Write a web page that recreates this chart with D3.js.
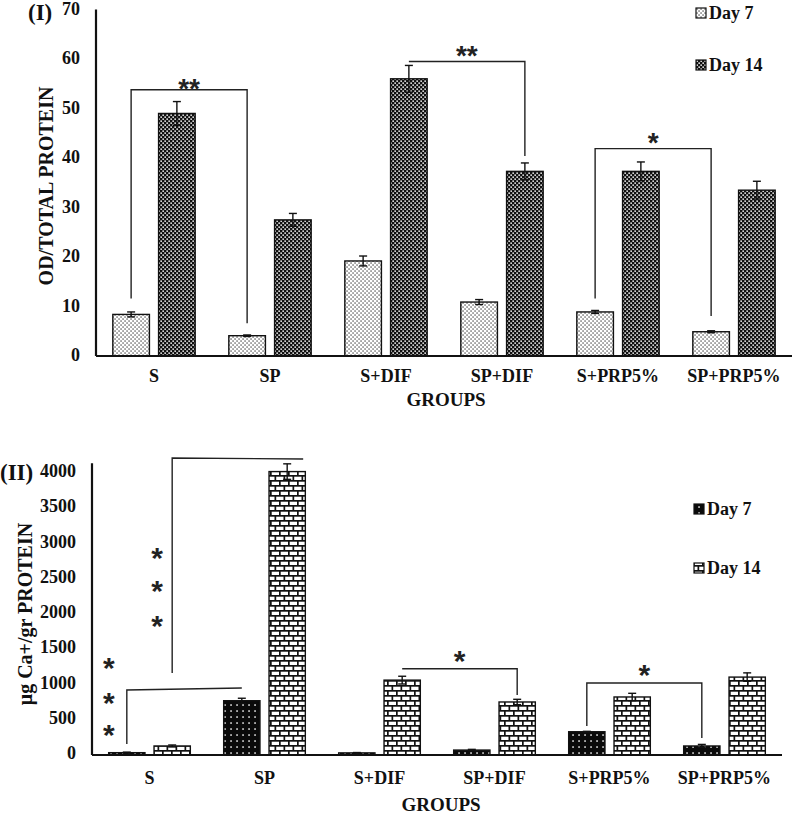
<!DOCTYPE html>
<html><head><meta charset="utf-8">
<script src="https://cdn.jsdelivr.net/npm/d3@7"></script>
<style>html,body{margin:0;padding:0;background:#fff}svg{display:block}</style>
</head><body>
<script>
// ---------- data ----------
const categories = ["S","SP","S+DIF","SP+DIF","S+PRP5%","SP+PRP5%"];
const seriesNames = ["Day 7","Day 14"];

// Panel I: OD/TOTAL PROTEIN
const odDay7   = [8.4, 4.1, 19.2, 10.9, 8.9, 4.9];
const odDay14  = [49.0, 27.5, 56.0, 37.3, 37.3, 33.5];
const odErr7   = [0.5, 0.15, 1.0, 0.5, 0.3, 0.2];
const odErr14  = [2.4, 1.3, 2.7, 1.7, 1.9, 1.8];
const odTicks  = [0,10,20,30,40,50,60,70];

// Panel II: µg Ca+/gr PROTEIN
const caDay7   = [33, 770, 30, 70, 330, 128];
const caDay14  = [128, 4020, 1062, 752, 823, 1105];
const caErr7   = [8, 35, 5, 10, 6, 22];
const caErr14  = [14, 110, 55, 38, 52, 60];
const caTicks  = [0,500,1000,1500,2000,2500,3000,3500,4000];

// significance brackets: from [category, series] to [category, series], top value, leg ends (null = no leg)
const odBrackets = [
  {from:[0,0], to:[1,0], top:[53.8,53.8], legL:11.6, legR:6.6, label:"**", labelVal:55.6},
  {from:[2,1], to:[3,1], top:[59.5,59.5], legL:null, legR:40.4, label:"**", labelVal:62.2},
  {from:[4,0], to:[5,0], top:[41.9,41.9], legL:11.6, legR:8.1, label:"*", labelVal:44.6}
];
const caBrackets = [
  {from:[0,0], to:[1,0], top:[922,950], legL:156, legR:null, label:null},
  {from:[0,1], to:[1,1], top:[4213,4199], legL:1163, legR:null, label:null, extendR:16},
  {from:[2,1], to:[3,1], top:[1224,1224], legL:null, legR:851, label:"*", labelVal:1440},
  {from:[4,0], to:[5,0], top:[1021,1021], legL:411, legR:241, label:"*", labelVal:1250}
];
// vertical star columns (panel II)
const caStarColumns = [
  {cat:0, series:0, dx:-18, vals:[1348, 851, 397]},
  {cat:0, series:1, dx:-15, vals:[2908, 2440, 1943]}
];

// ---------- drawing ----------
const W = 796, H = 814;
const svg = d3.select("body").append("svg").attr("width", W).attr("height", H);
const defs = svg.append("defs");
const serif = "'Liberation Serif','Times New Roman',serif";
const ink = "#111";

function pattern(id, w, h, build){
  const p = defs.append("pattern").attr("id", id).attr("patternUnits","userSpaceOnUse")
    .attr("width", w).attr("height", h);
  build(p);
}
pattern("odD7", 4, 4, p => {
  p.append("rect").attr("width",4).attr("height",4).attr("fill","#fff");
  p.append("rect").attr("x",0.4).attr("y",0.4).attr("width",1.3).attr("height",1.3).attr("fill","#444");
  p.append("rect").attr("x",2.4).attr("y",2.4).attr("width",1.3).attr("height",1.3).attr("fill","#444");
});
pattern("odD14", 4, 4, p => {
  p.append("rect").attr("width",4).attr("height",4).attr("fill","#111");
  p.append("rect").attr("x",0.4).attr("y",0.4).attr("width",1.5).attr("height",1.5).attr("fill","#fff");
  p.append("rect").attr("x",2.4).attr("y",2.4).attr("width",1.5).attr("height",1.5).attr("fill","#fff");
});
pattern("caD7", 6, 6, p => {
  p.append("rect").attr("width",6).attr("height",6).attr("fill","#0a0a0a");
  p.append("rect").attr("x",2.3).attr("y",2.3).attr("width",1.5).attr("height",1.5).attr("fill","#fff");
});
pattern("caD14", 18, 10, p => {
  p.append("rect").attr("width",18).attr("height",10).attr("fill","#fff");
  p.append("rect").attr("x",0).attr("y",0).attr("width",18).attr("height",1.7).attr("fill","#111");
  p.append("rect").attr("x",0).attr("y",5).attr("width",18).attr("height",1.7).attr("fill","#111");
  p.append("rect").attr("x",0).attr("y",0).attr("width",1.7).attr("height",5).attr("fill","#111");
  p.append("rect").attr("x",9).attr("y",0).attr("width",1.7).attr("height",5).attr("fill","#111");
  p.append("rect").attr("x",4.5).attr("y",5).attr("width",1.7).attr("height",5).attr("fill","#111");
  p.append("rect").attr("x",13.5).attr("y",5).attr("width",1.7).attr("height",5).attr("fill","#111");
});

function drawPanel(cfg){
  const g = svg.append("g");
  const x0 = d3.scaleBand().domain(categories.map((d,i)=>i)).range([cfg.left, cfg.right]).paddingInner(0).paddingOuter(0);
  const step = x0.step();
  const x1 = d3.scaleBand().domain([0,1]).range([0.145*step, 0.855*step]).paddingInner(0.2).paddingOuter(0);
  const y = d3.scaleLinear().domain([0, cfg.ticks[cfg.ticks.length-1]]).range([cfg.bottom, cfg.top]);
  const cx = (c,s) => x0(c) + x1(s) + x1.bandwidth()/2;

  // bars
  const rows = [];
  categories.forEach((c,i)=>{
    rows.push({c:i, s:0, v:cfg.v7[i], e:cfg.e7[i]});
    rows.push({c:i, s:1, v:cfg.v14[i], e:cfg.e14[i]});
  });
  g.selectAll("rect.bar").data(rows).join("rect")
    .attr("x", d => x0(d.c) + x1(d.s)).attr("width", x1.bandwidth())
    .attr("y", d => y(d.v)).attr("height", d => y(0) - y(d.v))
    .attr("fill", d => `url(#${cfg.pat[d.s]})`).attr("stroke", ink).attr("stroke-width", 1.4);

  // error bars
  const eb = g.selectAll("g.eb").data(rows).join("g").attr("stroke", ink).attr("stroke-width", 1.4);
  eb.append("line").attr("x1", d=>cx(d.c,d.s)).attr("x2", d=>cx(d.c,d.s))
    .attr("y1", d=>y(d.v - d.e)).attr("y2", d=>y(d.v + d.e));
  eb.append("line").attr("x1", d=>cx(d.c,d.s)-4).attr("x2", d=>cx(d.c,d.s)+4)
    .attr("y1", d=>y(d.v + d.e)).attr("y2", d=>y(d.v + d.e));
  eb.append("line").attr("x1", d=>cx(d.c,d.s)-4).attr("x2", d=>cx(d.c,d.s)+4)
    .attr("y1", d=>y(d.v - d.e)).attr("y2", d=>y(d.v - d.e));

  // axes
  g.append("line").attr("x1", cfg.left).attr("x2", cfg.left).attr("y1", y(0)).attr("y2", y(cfg.axisTop))
    .attr("stroke", ink).attr("stroke-width", 2.2);
  g.append("line").attr("x1", cfg.left).attr("x2", cfg.right).attr("y1", y(0)).attr("y2", y(0))
    .attr("stroke", ink).attr("stroke-width", 2.2);

  // tick labels
  g.selectAll("text.tick").data(cfg.ticks).join("text")
    .attr("x", cfg.left - 16).attr("y", d => y(d) - cfg.tickShift).attr("dy","0.34em")
    .attr("text-anchor","end").attr("font-family", serif).attr("font-weight","bold")
    .attr("font-size", 18).attr("fill", ink).text(d => d);

  // category labels
  g.selectAll("text.cat").data(categories).join("text")
    .attr("x", (d,i) => x0(i) + step/2).attr("y", cfg.catY)
    .attr("text-anchor","middle").attr("font-family", serif).attr("font-weight","bold")
    .attr("font-size", 18).attr("fill", ink).text(d => d);

  g.append("text").attr("x", cfg.groupsX).attr("y", cfg.groupsY).attr("text-anchor","middle")
    .attr("font-family", serif).attr("font-weight","bold").attr("font-size", 19).attr("fill", ink).text("GROUPS");

  g.append("text").attr("transform", `translate(${cfg.titleX},${cfg.titleY}) rotate(-90)`)
    .attr("text-anchor","middle").attr("dy","0.34em")
    .attr("font-family", serif).attr("font-weight","bold").attr("font-size", 20).attr("fill", ink).text(cfg.title);

  g.append("text").attr("x", cfg.tagX).attr("y", cfg.tagY).attr("dy","0.34em")
    .attr("font-family", serif).attr("font-weight","bold").attr("font-size", 23).attr("fill", ink).text(cfg.tag);

  // legend
  seriesNames.forEach((n,i)=>{
    const ly = cfg.legendY[i];
    g.append("rect").attr("x", cfg.legendX).attr("y", ly-5).attr("width", 10).attr("height", 10)
      .attr("fill", `url(#${cfg.pat[i]})`).attr("stroke", ink).attr("stroke-width", 1.2);
    g.append("text").attr("x", cfg.legendX + 13).attr("y", ly).attr("dy","0.34em")
      .attr("font-family", serif).attr("font-weight","bold").attr("font-size", 18).attr("fill", ink).text(n);
  });

  // brackets
  const starText = (sx, sy, t, fs) => g.append("text").attr("x", sx).attr("y", sy + 0.6*fs)
      .attr("text-anchor","middle").attr("font-family","'Liberation Sans',Arial,sans-serif")
      .attr("font-weight","bold").attr("font-size", fs).attr("fill", "#222").text(t);
  cfg.brackets.forEach(b=>{
    const xa = cx(b.from[0], b.from[1]);
    const xb = cx(b.to[0], b.to[1]) + (b.extendR || 0);
    const pts = [];
    if (b.legL !== null) pts.push([xa, y(b.legL)]);
    pts.push([xa, y(b.top[0])]);
    pts.push([xb, y(b.top[1])]);
    if (b.legR !== null) pts.push([xb, y(b.legR)]);
    g.append("path").attr("d", d3.line()(pts)).attr("fill","none").attr("stroke","#222").attr("stroke-width",1.4);
    if (b.label) starText((xa + cx(b.to[0], b.to[1]))/2, y(b.labelVal), b.label, cfg.starSize);
  });
  (cfg.starColumns || []).forEach(sc=>{
    sc.vals.forEach(v => starText(cx(sc.cat, sc.series) + sc.dx, y(v), "*", cfg.starSize));
  });
}

drawPanel({
  left: 96, right: 792, top: 9.5, bottom: 356, ticks: odTicks, axisTop: 70, tickShift: 1,
  v7: odDay7, v14: odDay14, e7: odErr7, e14: odErr14, pat: ["odD7","odD14"],
  catY: 382, groupsX: 446, groupsY: 406, title: "OD/TOTAL PROTEIN", titleX: 46, titleY: 186,
  tag: "(I)", tagX: 28, tagY: 12, legendX: 696, legendY: [13, 65],
  brackets: odBrackets, starSize: 28
});
drawPanel({
  left: 92, right: 782, top: 473, bottom: 755, ticks: caTicks, axisTop: 4140, tickShift: 2,
  v7: caDay7, v14: caDay14, e7: caErr7, e14: caErr14, pat: ["caD7","caD14"],
  catY: 784, groupsX: 441, groupsY: 811, title: "\u03bcg Ca+/gr PROTEIN", titleX: 25, titleY: 614,
  tag: "(II)", tagX: 0, tagY: 472, legendX: 694, legendY: [509, 568],
  brackets: caBrackets, starColumns: caStarColumns, starSize: 30
});
</script>
</body></html>
